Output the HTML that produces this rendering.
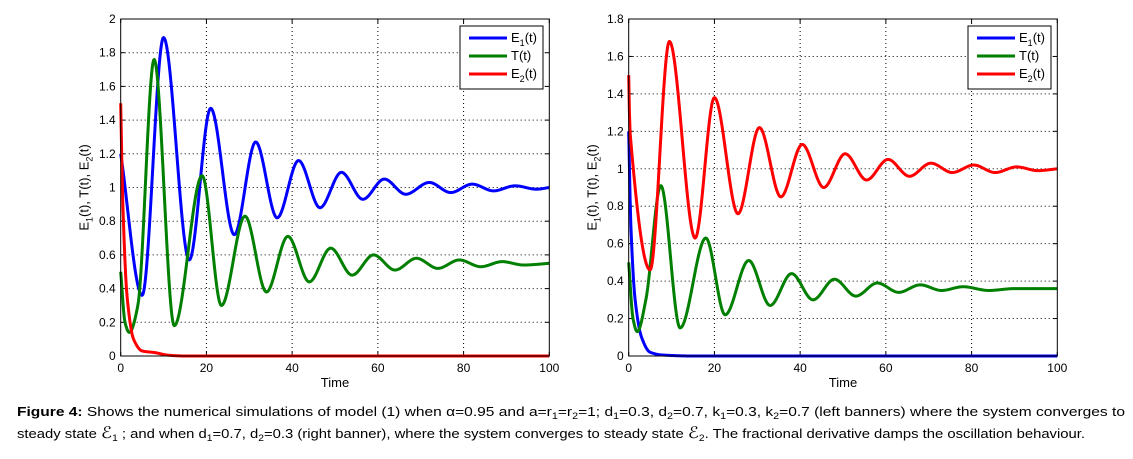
<!DOCTYPE html>
<html><head><meta charset="utf-8"><style>
body{margin:0;background:#fff;width:1133px;height:454px;overflow:hidden;font-family:"Liberation Sans",sans-serif}
svg text{font-family:"Liberation Sans",sans-serif}
</style></head><body>
<svg id="fig" width="1133" height="454">
<g id="p1"></g>
<g id="p2"></g>
<g font-size="13" fill="#000">
<text x="17" y="416" textLength="1108" lengthAdjust="spacingAndGlyphs"><tspan font-weight="bold">Figure 4:</tspan> Shows the numerical simulations of model (1) when α=0.95 and a=r<tspan font-size="9" dy="3">1</tspan><tspan dy="-3">=r</tspan><tspan font-size="9" dy="3">2</tspan><tspan dy="-3">=1; d</tspan><tspan font-size="9" dy="3">1</tspan><tspan dy="-3">=0.3, d</tspan><tspan font-size="9" dy="3">2</tspan><tspan dy="-3">=0.7, k</tspan><tspan font-size="9" dy="3">1</tspan><tspan dy="-3">=0.3, k</tspan><tspan font-size="9" dy="3">2</tspan><tspan dy="-3">=0.7 (left banners) where the system converges to</tspan></text>
<text x="17" y="438" textLength="1068" lengthAdjust="spacingAndGlyphs">steady state  <tspan font-size="16">ℰ</tspan><tspan font-size="9" dy="3">1</tspan><tspan dy="-3"> ; and when d</tspan><tspan font-size="9" dy="3">1</tspan><tspan dy="-3">=0.7, d</tspan><tspan font-size="9" dy="3">2</tspan><tspan dy="-3">=0.3 (right banner), where the system converges to steady state  </tspan><tspan font-size="16">ℰ</tspan><tspan font-size="9" dy="3">2</tspan><tspan dy="-3">. The fractional derivative damps the oscillation behaviour.</tspan></text>
</g>
</svg>
<script>
// Left chart data
const leftE1T=[0,5,10,16,21,26.5,31.5,36.5,41.5,46.5,51.5,56.5,61.5,66.5,72,77,82,87,92,97,100];
const leftE1V=[1.2,0.36,1.89,0.57,1.47,0.72,1.27,0.82,1.16,0.88,1.09,0.93,1.05,0.96,1.03,0.97,1.02,0.98,1.01,0.99,1.0];
const leftTT=[0,1,2,4,7.8,12.5,19,23.5,29,34,39,44,49,54,59,64,69,74,79,84,89,94,100];
const leftTV=[0.5,0.2,0.14,0.3,1.76,0.18,1.07,0.3,0.83,0.38,0.71,0.44,0.64,0.48,0.6,0.51,0.58,0.52,0.57,0.53,0.56,0.54,0.55];
const leftE2T=[0,0.5,1.5,3,5,8,11,15,100];
const leftE2V=[1.5,0.9,0.35,0.1,0.03,0.02,0.005,0,0];
const leftYTicks=[0,0.2,0.4,0.6,0.8,1,1.2,1.4,1.6,1.8,2];
// Right chart data
const rightE1T=[0,0.5,1.5,3,5,8,15,100];
const rightE1V=[1.2,0.7,0.3,0.1,0.02,0.005,0,0];
const rightTT=[0,1,2,4,7.5,12,18,22.5,28,33,38,43,48,53,58,63,68,73,78,84,90,100];
const rightTV=[0.5,0.2,0.13,0.3,0.91,0.15,0.63,0.22,0.51,0.27,0.44,0.3,0.41,0.32,0.39,0.34,0.38,0.35,0.37,0.35,0.36,0.36];
const rightE2T=[0,0.3,5,9.5,15.5,20,25.5,30.5,35.5,40.5,45.5,50.5,55.5,60.5,65.5,70.5,75.5,80.5,85.5,90.5,95.5,100];
const rightE2V=[1.5,1.2,0.46,1.68,0.63,1.38,0.76,1.22,0.85,1.13,0.9,1.08,0.94,1.05,0.96,1.03,0.98,1.02,0.98,1.01,0.99,1.0];
const rightYTicks=[0,0.2,0.4,0.6,0.8,1,1.2,1.4,1.6,1.8];
const xTicks=[0,20,40,60,80,100];

const NS='http://www.w3.org/2000/svg';
function mk(p,tag,a){const e=document.createElementNS(NS,tag);for(const k in a)e.setAttribute(k,a[k]);p.appendChild(e);return e;}
function monotone(xs,ys){
  const n=xs.length,d=[],m=[];
  for(let i=0;i<n-1;i++)d.push((ys[i+1]-ys[i])/(xs[i+1]-xs[i]));
  for(let i=0;i<n;i++){
    if(i===0)m.push(d[0]);else if(i===n-1)m.push(d[n-2]);
    else m.push(d[i-1]*d[i]<=0?0:2/(1/d[i-1]+1/d[i]));
  }
  return t=>{let i=0;while(i<n-2&&t>xs[i+1])i++;
    const h=xs[i+1]-xs[i],s=(t-xs[i])/h,s2=s*s,s3=s2*s;
    return (2*s3-3*s2+1)*ys[i]+(s3-2*s2+s)*h*m[i]+(-2*s3+3*s2)*ys[i+1]+(s3-s2)*h*m[i+1];};
}
function chart(g,x0,x1,y0,y1,ymax,yTicks,series,legend){
  const X=v=>x0+(x1-x0)*v/100, Y=v=>y0-(y0-y1)*v/ymax;
  mk(g,'rect',{x:x0,y:y1,width:x1-x0,height:y0-y1,fill:'#fff',stroke:'none'});
  xTicks.forEach(t=>{
    if(t>0&&t<100){const l=mk(g,'line',{x1:X(t),x2:X(t),y1:y1,y2:y0,stroke:'#000','stroke-width':1,'stroke-dasharray':'1,3'});
    
    }
    const tx=mk(g,'text',{x:X(t),y:y0+16,'font-size':12,'text-anchor':'middle'});tx.textContent=t;
    
    
    mk(g,'line',{x1:X(t),x2:X(t),y1:y0,y2:y0-4,stroke:'#000'});
    mk(g,'line',{x1:X(t),x2:X(t),y1:y1,y2:y1+4,stroke:'#000'});
  });
  yTicks.forEach(t=>{
    if(t>0&&t<ymax){const l=mk(g,'line',{x1:x0,x2:x1,y1:Y(t),y2:Y(t),stroke:'#000','stroke-width':1,'stroke-dasharray':'1,3'});
    
    }
    const tx=mk(g,'text',{x:x0-5,y:Y(t)+4,'font-size':12,'text-anchor':'end'});tx.textContent=t;
    
    
    mk(g,'line',{x1:x0,x2:x0+4,y1:Y(t),y2:Y(t),stroke:'#000'});
    mk(g,'line',{x1:x1,x2:x1-4,y1:Y(t),y2:Y(t),stroke:'#000'});
  });
  series.forEach(s=>{
    const f=monotone(s.t,s.v);let d='';
    for(let px=0;px<=600;px++){const t=px/6;d+=(px?'L':'M')+X(t).toFixed(2)+','+Y(Math.max(f(t),0)).toFixed(2);}
    const p=mk(g,'path',{d:d,fill:'none',stroke:s.c,'stroke-width':3,'stroke-linejoin':'round'});
    
    
  });
  mk(g,'rect',{x:x0,y:y1,width:x1-x0,height:y0-y1,fill:'none',stroke:'#000'});
  const xl=mk(g,'text',{x:(x0+x1)/2,y:y0+31,'font-size':13,'text-anchor':'middle'});xl.textContent='Time';
  
  
  const yl=mk(g,'text',{x:0,y:0,'font-size':13,'text-anchor':'middle',transform:`translate(${x0-32},${(y0+y1)/2}) rotate(-90)`});
  yl.innerHTML='E<tspan font-size="9" dy="4">1</tspan><tspan dy="-4">(t), T(t), E</tspan><tspan font-size="9" dy="4">2</tspan><tspan dy="-4">(t)</tspan>';
  
  
  // legend
  const lg=mk(g,'g',{});
  
  
  const lx=legend[0],ly=26;
  mk(lg,'rect',{x:lx,y:ly,width:83,height:63,fill:'#fff',stroke:'#000'});
  const labs=['E<tspan font-size="9" dy="4">1</tspan><tspan dy="-4">(t)</tspan>','T(t)','E<tspan font-size="9" dy="4">2</tspan><tspan dy="-4">(t)</tspan>'];
  const cols=['#0000ff','#007f00','#ff0000'];
  for(let i=0;i<3;i++){
    const yy=ly+12+i*18;
    mk(lg,'line',{x1:lx+9,x2:lx+47,y1:yy,y2:yy,stroke:cols[i],'stroke-width':3});
    const t=mk(lg,'text',{x:lx+51,y:yy+4,'font-size':13});t.innerHTML=labs[i];
    
    
  }
}
chart(document.getElementById('p1'),120.7,549.3,356,19,2,leftYTicks,[
 {t:leftE1T,v:leftE1V,c:'#0000ff',name:'left-e1-line'},
 {t:leftTT,v:leftTV,c:'#007f00',name:'left-t-line'},
 {t:leftE2T,v:leftE2V,c:'#ff0000',name:'left-e2-line'}],[460]);
chart(document.getElementById('p2'),628.7,1057.3,356,19,1.8,rightYTicks,[
 {t:rightE1T,v:rightE1V,c:'#0000ff',name:'right-e1-line'},
 {t:rightTT,v:rightTV,c:'#007f00',name:'right-t-line'},
 {t:rightE2T,v:rightE2V,c:'#ff0000',name:'right-e2-line'}],[968]);
</script>
</body></html>
